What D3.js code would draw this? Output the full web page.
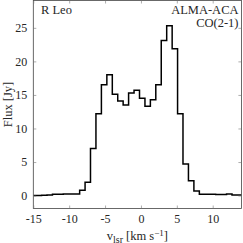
<!DOCTYPE html>
<html><head><meta charset="utf-8">
<script src="https://cdn.jsdelivr.net/npm/d3@7"></script>
<style>body{margin:0;background:#fff}svg{display:block}</style>
</head><body><svg id="c" width="243" height="243"></svg>
<script>
const velocity = [-14.99,-14.23,-13.47,-12.71,-11.95,-11.20,-10.44,-9.68,-8.92,-8.16,-7.41,-6.65,-5.89,-5.13,-4.37,-3.61,-2.86,-2.10,-1.34,-0.58,0.18,0.94,1.69,2.45,3.21,3.97,4.73,5.48,6.24,7.00,7.76,8.52,9.28,10.03,10.79,11.55,12.31,13.07,13.82,14.58];
const flux = [0.0,0.0,0.05,0.1,0.2,0.2,0.25,0.25,0.25,0.8,2.0,7.0,12.2,16.5,18.0,15.1,14.1,13.5,15.3,15.7,14.5,13.3,14.3,16.5,23.1,25.3,21.9,12.2,4.7,2.2,0.7,0.2,0.2,0.2,0.15,0.15,0.25,0.1,0.1,0.1];
const xTicks = [-15,-10,-5,0,5,10];
const yTicks = [0,5,10,15,20,25];

const FONT = "Liberation Serif";
const INK = "#262626";
const svg = d3.select("#c");
const L=33.3, R=241.4, T=0.5, B=208.5;
const x = d3.scaleLinear().domain([-15,14]).range([L,R]);
const y = d3.scaleLinear().domain([-2,29]).range([209,1]);

svg.append("clipPath").attr("id","clip").append("rect").attr("x",L).attr("y",T).attr("width",R-L).attr("height",B-T);

const data = velocity.map((v,i)=>[v,flux[i]]);
svg.append("path").datum(data).attr("clip-path","url(#clip)")
  .attr("fill","none").attr("stroke","#000").attr("stroke-width",1.5)
  .attr("d", d3.line().x(d=>x(d[0])).y(d=>y(d[1])).curve(d3.curveStep));

svg.append("rect").attr("x",L).attr("y",T).attr("width",R-L).attr("height",B-T)
  .attr("fill","none").attr("stroke","#444").attr("stroke-width",0.8);

const tl=3;
const xb = d3.axisBottom(x).tickValues(xTicks).tickSize(-tl).tickPadding(6);
const gx = svg.append("g").attr("transform",`translate(0,${B})`).call(xb);
const xt = d3.axisTop(x).tickValues(xTicks).tickSize(-tl).tickFormat("");
const gxt = svg.append("g").attr("transform",`translate(0,${T})`).call(xt);
const yl = d3.axisLeft(y).tickValues(yTicks).tickSize(-tl).tickPadding(6);
const gy = svg.append("g").attr("transform",`translate(${L},0)`).call(yl);
const yr = d3.axisRight(y).tickValues(yTicks).tickSize(-tl).tickFormat("");
const gyr = svg.append("g").attr("transform",`translate(${R},0)`).call(yr);
[gx,gxt,gy,gyr].forEach(g=>{
  g.attr("font-family",FONT).attr("font-size",12);
  g.select(".domain").remove();
  g.selectAll(".tick line").attr("stroke","#777").attr("stroke-width",0.6);
  g.selectAll("text").attr("font-family",FONT).attr("font-size",12).attr("fill",INK);
});
gx.selectAll("text").text(d=>(d<0?"-":"")+Math.abs(d));

svg.append("text").attr("transform",`translate(12,${(T+B)/2}) rotate(-90)`).attr("text-anchor","middle")
  .attr("font-family",FONT).attr("fill",INK).attr("font-size",12.5).text("Flux [Jy]");

const xl = svg.append("text").attr("x",(L+R)/2).attr("y",240).attr("text-anchor","middle")
  .attr("font-family",FONT).attr("fill",INK).attr("font-size",12.5);
xl.append("tspan").text("v");
xl.append("tspan").attr("dy",2.5).attr("font-size",10).text("lsr");
xl.append("tspan").attr("dy",-2.5).text(" [km s");
xl.append("tspan").attr("dy",-4.5).attr("font-size",9).text("\u22121");
xl.append("tspan").attr("dy",4.5).text("]");

svg.append("text").attr("x",41).attr("y",14).attr("font-family",FONT).attr("fill",INK).attr("font-size",12.5).text("R Leo");
svg.append("text").attr("x",238.5).attr("y",13.5).attr("text-anchor","end").attr("font-family",FONT).attr("fill",INK).attr("font-size",12.5).text("ALMA-ACA");
svg.append("text").attr("x",238.5).attr("y",26.5).attr("text-anchor","end").attr("font-family",FONT).attr("fill",INK).attr("font-size",12.5).text("CO(2-1)");
</script></body></html>
